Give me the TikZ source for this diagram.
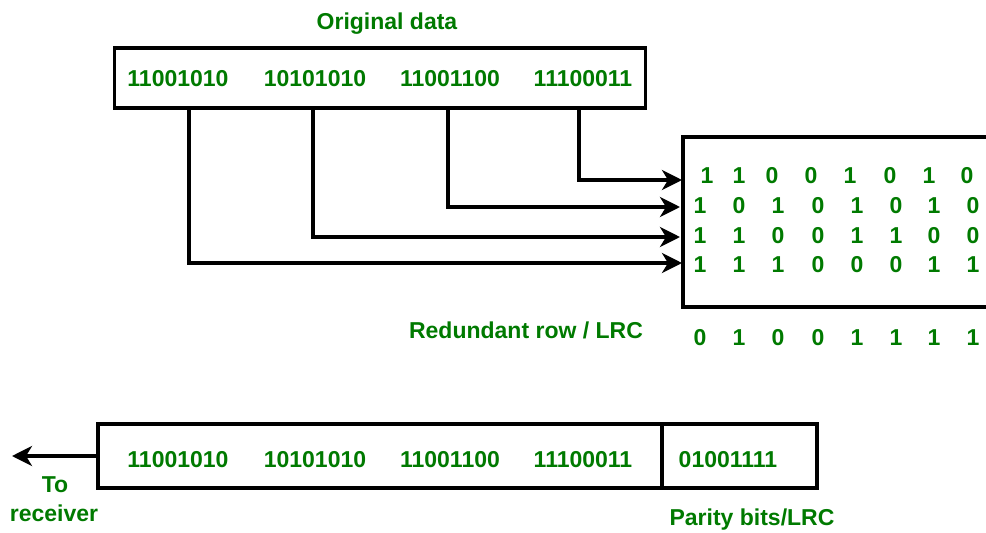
\documentclass[tikz,border=0pt]{standalone}
\usepackage{fontspec}
\setmainfont{Liberation Sans}
\usetikzlibrary{arrows.meta}
\definecolor{txtgreen}{RGB}{0,122,0}
\begin{document}
\begin{tikzpicture}[x=1pt,y=-1pt,
  lbl/.style={font=\fontsize{23}{27}\selectfont\bfseries, text=txtgreen, inner sep=0pt, anchor=base},
  box/.style={draw=black, line width=3.4pt, inner sep=0pt},
  arr/.style={line width=3.4pt, -{Stealth[length=20pt,width=20pt,inset=6pt]}}]
\path[use as bounding box] (0,0) rectangle (986,533);
\clip (0,0) rectangle (986,533);

% boxes
\node[box, minimum width=531pt, minimum height=60pt] (orig) at (380,78) {};
\node[box, minimum width=340pt, minimum height=170pt] (rbox) at (853,222) {};
\node[box, minimum width=564pt, minimum height=64pt] (data) at (380,456) {};
\node[box, minimum width=155pt, minimum height=64pt] (par) at (739.5,456) {};

% titles
\node[lbl] (title) at (387,29) {Original data};
\node[lbl] (red) at (526,338) {Redundant row / LRC};
\node[lbl] (parlbl) at (752,525) {Parity bits/LRC};
\node[lbl] (to) at (55,492) {To};
\node[lbl] (recvlbl) at (54,521) {receiver};

% data words
\foreach \x/\w [count=\i] in {178/11001010,315/10101010,450/11001100,583/11100011}{
  \node[lbl] (t\i) at (\x,86) {\w};
  \node[lbl] (b\i) at (\x,467) {\w};
}
\node[lbl] (p) at (728,467) {01001111};

% matrix
\foreach \x/\v [count=\i] in {707/1,739/1,772/0,811/0,850/1,890/0,929/1,967/0}
  \node[lbl] (ra\i) at (\x,183) {\v};
\foreach \x/\v [count=\i] in {700/1,739/0,778/1,818/0,857/1,896/0,934/1,973/0}
  \node[lbl] (rb\i) at (\x,213) {\v};
\foreach \x/\v [count=\i] in {700/1,739/1,778/0,818/0,857/1,896/1,934/0,973/0}
  \node[lbl] (rc\i) at (\x,243) {\v};
\foreach \x/\v [count=\i] in {700/1,739/1,778/1,818/0,857/0,896/0,934/1,973/1}
  \node[lbl] (rd\i) at (\x,272) {\v};
\foreach \x/\v [count=\i] in {700/0,739/1,778/0,818/0,857/1,896/1,934/1,973/1}
  \node[lbl] (rl\i) at (\x,345) {\v};

% connectors
\coordinate (s1) at (189,108);
\coordinate (s2) at (313,108);
\coordinate (s3) at (448,108);
\coordinate (s4) at (579,108);
\coordinate (e1) at (682,263);
\coordinate (e2) at (680,237);
\coordinate (e3) at (680,207);
\coordinate (e4) at (682,180);
\draw[arr] (s1) |- (e1);
\draw[arr] (s2) |- (e2);
\draw[arr] (s3) |- (e3);
\draw[arr] (s4) |- (e4);

\coordinate (recv) at (12,456);
\draw[arr] (data.west) -- (recv);
\end{tikzpicture}
\end{document}
